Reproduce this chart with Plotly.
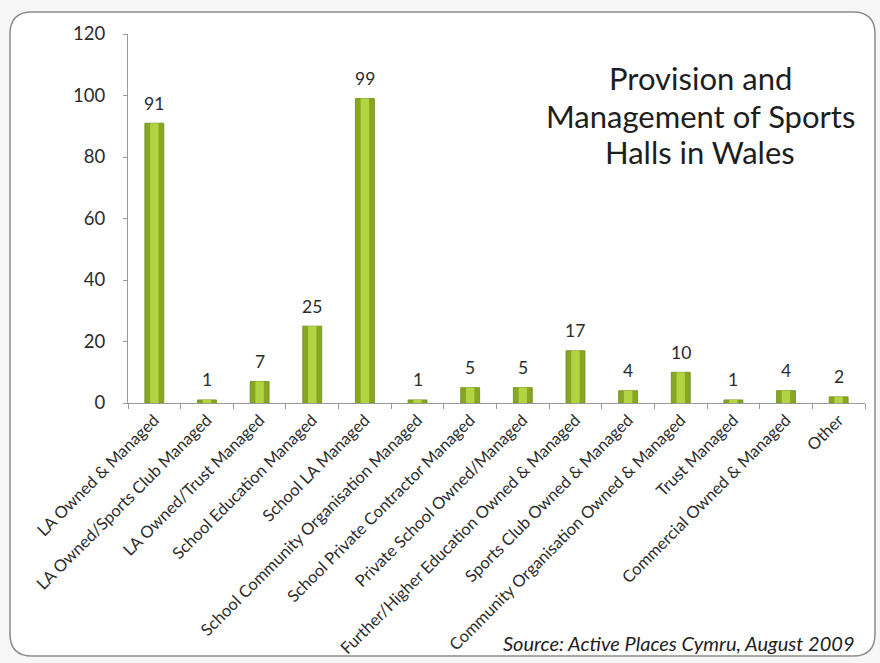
import plotly.graph_objects as go

categories = [
    "LA Owned & Managed",
    "LA Owned/Sports Club Managed",
    "LA Owned/Trust Managed",
    "School Education Managed",
    "School LA Managed",
    "School Community Organisation Managed",
    "School Private Contractor Managed",
    "Private School Owned/Managed",
    "Further/Higher Education Owned & Managed",
    "Sports Club Owned & Managed",
    "Community Organisation Owned & Managed",
    "Trust Managed",
    "Commercial Owned & Managed",
    "Other",
]
values = [91, 1, 7, 25, 99, 1, 5, 5, 17, 4, 10, 1, 4, 2]
y_ticks = [0, 20, 40, 60, 80, 100, 120]

title_lines = ["Provision and", "Management of Sports", "Halls in Wales"]
source_text = "Source: Active Places Cymru, August 2009"

FONT = "Lato"
TXT = "#2b2b2b"

W, H = 880, 663
l, r, t, b = 128, 15, 34, 260
pw, ph = W - l - r, H - t - b
def px(x):
    return (x - l) / pw
def py(y):
    return (H - b - y) / ph

fig = go.Figure()
fig.add_trace(go.Bar(
    x=categories, y=values, width=0.36,
    marker=dict(color="#87a722", line=dict(color="#6f8d18", width=0.8)),
    hoverinfo="x+y", name="Sports halls",
))
fig.add_trace(go.Bar(
    x=categories, y=values, width=0.16,
    marker=dict(color="#b2d443", line=dict(width=0)),
    hoverinfo="skip", showlegend=False, name="highlight",
))

for c, v in zip(categories, values):
    fig.add_annotation(
        x=c, y=v, xref="x", yref="y", text=str(v), showarrow=False,
        yanchor="middle", yshift=20,
        font=dict(family=FONT, size=17.5, color=TXT),
    )

x0, x1, y0, y1, rad = 10, 875, 12, 656, 22
path = (
    f"M {px(x0+rad)},{py(y0)} L {px(x1-rad)},{py(y0)} "
    f"Q {px(x1)},{py(y0)} {px(x1)},{py(y0+rad)} "
    f"L {px(x1)},{py(y1-rad)} Q {px(x1)},{py(y1)} {px(x1-rad)},{py(y1)} "
    f"L {px(x0+rad)},{py(y1)} Q {px(x0)},{py(y1)} {px(x0)},{py(y1-rad)} "
    f"L {px(x0)},{py(y0+rad)} Q {px(x0)},{py(y0)} {px(x0+rad)},{py(y0)} Z"
)

fig.update_layout(
    width=W, height=H,
    barmode="overlay",
    showlegend=False,
    paper_bgcolor="#f6f6f6",
    plot_bgcolor="rgba(0,0,0,0)",
    margin=dict(l=l, r=r, t=t, b=b, autoexpand=False),
    font=dict(family=FONT, color=TXT),
    xaxis=dict(
        tickangle=-45, tickfont=dict(family=FONT, size=16.5, color=TXT),
        showline=True, linecolor="#9a9a9a", linewidth=1,
        ticks="outside", tickson="boundaries", ticklen=5, tickcolor="#9a9a9a",
        showgrid=False, zeroline=False, automargin=False,
    ),
    yaxis=dict(
        range=[0, 120], tickvals=y_ticks,
        tickfont=dict(family=FONT, size=18.5, color=TXT),
        showline=True, linecolor="#9a9a9a", linewidth=1,
        ticks="outside", ticklen=4, tickcolor="#9a9a9a",
        ticklabelstandoff=14,
        showgrid=False, zeroline=False, automargin=False,
    ),
    shapes=[dict(
        type="path", xref="paper", yref="paper", layer="below", path=path,
        line=dict(color="#8c8c8c", width=1.5), fillcolor="#ffffff",
    )],
)

for line, yy in zip(title_lines, [78, 116, 152]):
    fig.add_annotation(
        text=line, xref="paper", yref="paper",
        x=px(700), y=py(yy), xanchor="center", yanchor="middle",
        showarrow=False, font=dict(family=FONT, size=31, color="#1e1e1e"),
    )
fig.add_annotation(
    text=f"<i>{source_text}</i>", xref="paper", yref="paper",
    x=px(678), y=py(643), xanchor="center", yanchor="middle",
    showarrow=False, font=dict(family=FONT, size=20, color="#1e1e1e"),
)

fig.write_html("out.html", config={"displayModeBar": False},
               post_script="document.body.style.margin='0';")
